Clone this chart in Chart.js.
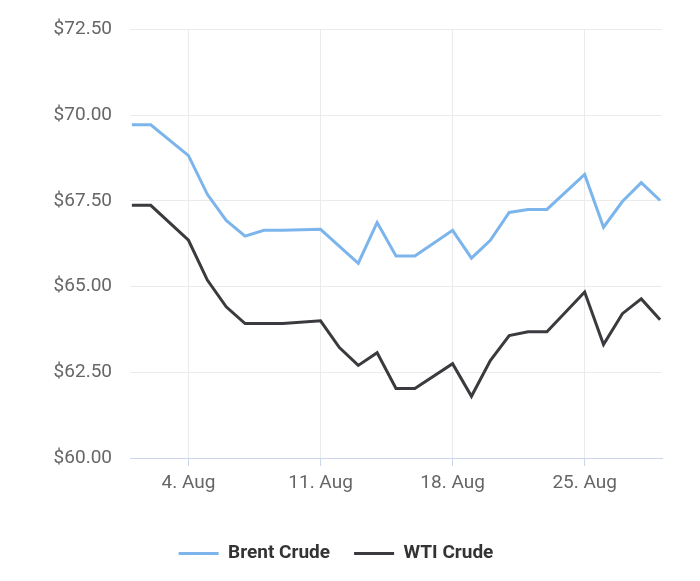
<!DOCTYPE html>
<html>
<head>
<meta charset="utf-8">
<script src="https://cdn.jsdelivr.net/npm/chart.js@4"></script>
<style>
  html, body { margin: 0; padding: 0; background: #fff; }
  #wrap { width: 700px; height: 581px; }
</style>
</head>
<body>
<div id="wrap"><canvas id="chart"></canvas></div>
<script>
// ── Data (August, day of month) ─────────────────────────────
const days  = [1, 2, 4, 5, 6, 7, 8, 9, 11, 12, 13, 14, 15, 16, 18, 19, 20, 21, 22, 23, 25, 26, 27, 28, 29];
const brent = [69.72, 69.72, 68.82, 67.69, 66.93, 66.47, 66.64, 66.64, 66.67, null, 65.68, 66.87, 65.89, 65.89,
               66.64, 65.83, 66.35, 67.16, 67.25, 67.25, 68.27, 66.73, 67.48, 68.03, 67.51];
const wti   = [67.37, 67.37, 66.35, 65.19, 64.41, 63.92, 63.92, 63.92, 64.00, 63.22, 62.70, 63.07, 62.03, 62.03,
               62.75, 61.80, 62.84, 63.57, 63.68, 63.68, 64.84, 63.31, 64.21, 64.64, 64.03];
const tickDays = [4, 11, 18, 25];

const toPoints = arr => days.map((d, i) => ({ x: d, y: arr[i] }));

Chart.defaults.font.family = "Roboto, sans-serif";
Chart.defaults.color = '#666';
Chart.defaults.animation = false;

new Chart(document.getElementById('chart'), {
    type: 'line',
    data: {
        datasets: [
            { label: 'Brent Crude', data: toPoints(brent), borderColor: '#7cb5ec', backgroundColor: '#7cb5ec',
              borderWidth: 3, pointRadius: 0, tension: 0, spanGaps: true, pointStyle: 'line' },
            { label: 'WTI Crude', data: toPoints(wti), borderColor: '#3b3b3f', backgroundColor: '#3b3b3f',
              borderWidth: 3, pointRadius: 0, tension: 0, spanGaps: true, pointStyle: 'line' },
        ],
    },
    options: {
        responsive: true,
        maintainAspectRatio: false,
        layout: { padding: { left: 10, right: 38, top: 18, bottom: 8 } },
        scales: {
            x: {
                type: 'linear',
                min: 0.9,
                max: 29.1,
                afterBuildTicks: axis => { axis.ticks = tickDays.map(v => ({ value: v })); },
                afterFit: axis => { axis.height = 62; },
                grid: { color: '#ebebeb', drawTicks: true, tickLength: 8, tickColor: '#ccd6eb' },
                border: { color: '#ccd6eb' },
                ticks: { font: { size: 19 }, color: '#666', callback: v => v + '. Aug', maxRotation: 0, padding: 6 },
            },
            y: {
                min: 60,
                max: 72.5,
                afterFit: axis => { axis.width = 120; },
                ticks: { stepSize: 2.5, font: { size: 19 }, color: '#666', padding: 18,
                         callback: v => '$' + v.toFixed(2) },
                grid: { color: '#ebebeb', drawTicks: false },
                border: { display: false },
            },
        },
        plugins: {
            legend: {
                position: 'bottom',
                labels: { usePointStyle: true, pointStyleWidth: 40, font: { size: 19, weight: 'bold' },
                          color: '#333', padding: 24 },
            },
            tooltip: { enabled: false },
        },
    },
});
</script>
</body>
</html>
